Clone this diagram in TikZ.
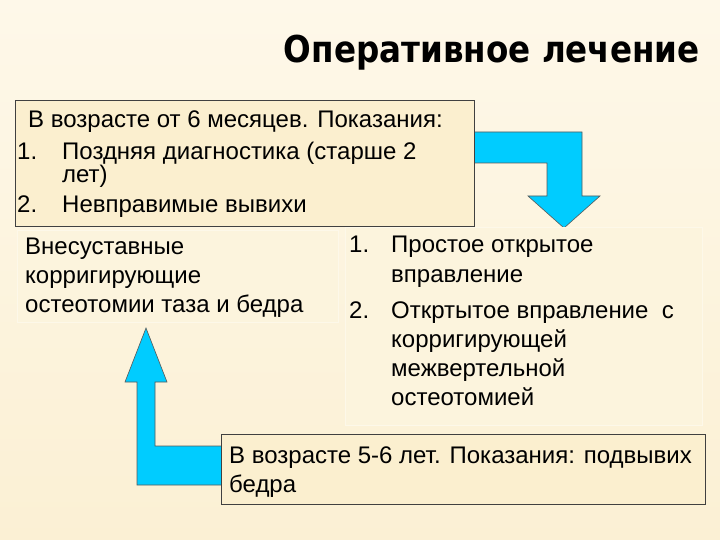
\documentclass[tikz,border=0pt]{standalone}
\usepackage{fontspec}
\setmainfont{Liberation Sans}
\newfontfamily\titlefont{DejaVu Sans}[FakeStretch=0.88]
\definecolor{bgtop}{RGB}{254,248,233}
\definecolor{bgmid}{RGB}{250,236,203}
\definecolor{bgbot}{RGB}{251,240,212}
\definecolor{boxfill}{RGB}{251,239,207}
\definecolor{arrowblue}{RGB}{0,204,255}
\newcommand{\nr}[2]{\makebox[#1][l]{#2}}
\begin{document}
\begin{tikzpicture}[x=1pt, y=-1pt,
		box/.style={draw=black!75, fill=boxfill, line width=0.8pt, anchor=north west, inner sep=0},
		softbox/.style={draw=white!55!boxfill, fill=white!30!boxfill, line width=0.8pt, anchor=north west, inner sep=0},
		txt/.style={anchor=base west, inner sep=0, align=left, font=\fontsize{24}{29}\selectfont},
		blockarrow/.style={fill=arrowblue, draw=black!65, line width=0.6pt, line join=miter}]
				\useasboundingbox (0,0) rectangle (720,540);
				\shade [top color=bgtop, middle color=bgmid, bottom color=bgbot] (0,0) rectangle (720,540);
				\node [anchor=base east, inner sep=0, font=\titlefont\bfseries\fontsize{37}{40}\selectfont] (title) at (700,63) {Оперативное лечение};
				\draw [blockarrow] (470,132) -- (582,132) -- (582,196) -- (600,196) -- (564,228) -- (528,196) -- (547,196) -- (547,163) -- (470,163) -- cycle;
				\draw [blockarrow] (225,446) -- (155,446) -- (155,382) -- (167,382) -- (146,328) -- (125,382) -- (137,382) -- (137,485) -- (225,485) -- cycle;
				\node [box, minimum width=459, minimum height=126] (early) at (15,100) {};
				\node [txt] (earlytext) at (17,212) {\hspace*{11pt}В возрасте от 6 месяцев. Показания:\\[3pt]
					\nr{45pt}{1.}Поздняя диагностика (старше 2\\[-5pt]
					\nr{45pt}{}лет)\\
					\nr{45pt}{2.}Невправимые вывихи};
				\node [softbox, minimum width=321, minimum height=92] (extra) at (17,230) {};
				\node [txt] (extratext) at (25,312) {Внесуставные\\корригирующие\\остеотомии таза и бедра};
				\node [softbox, minimum width=357, minimum height=198] (open) at (345,227) {};
				\node [txt] (opentext) at (349,405) {\nr{42pt}{1.}Простое открытое\\[1pt]
					\nr{42pt}{}вправление\\[7pt]
					\nr{42pt}{2.}Откртытое вправление\ \ с\\
					\nr{42pt}{}корригирующей\\
					\nr{42pt}{}межвертельной\\
					\nr{42pt}{}остеотомией};
				\node [box, minimum width=484, minimum height=70] (late) at (221,434) {};
				\node [txt] (latetext) at (229,492) {В возрасте 5-6 лет. Показания: подвывих\\бедра};
			\end{tikzpicture}
\end{document}
